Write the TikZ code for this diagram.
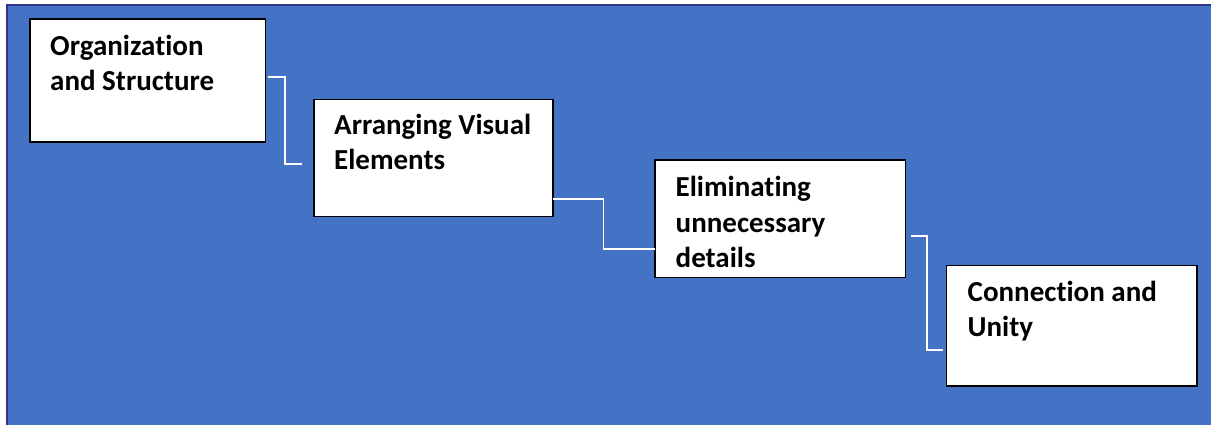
\documentclass[tikz,border=0pt]{standalone}
\usepackage{fontspec}
\setmainfont[Ligatures=NoCommon]{Carlito}
\begin{document}
\begin{tikzpicture}[x=1pt,y=-1pt,
  stagebox/.style={draw=black, line width=1.2pt, fill=white, minimum width=#1, anchor=north west,
    inner sep=0pt, outer sep=0pt},
  stagetext/.style={anchor=base west, font=\bfseries\fontsize{29}{35.5}\selectfont, inner sep=0pt},
  link/.style={draw=white, line width=1.2pt}]
  \useasboundingbox (0,0) rectangle (1211,424);
  \fill[white] (0,0) rectangle (1211,424);
  % backdrop panel
  \fill[draw=blue!40!black!80, line width=2pt, fill={rgb,255:red,68;green,114;blue,196}]
    (7,5) rectangle (1216,430);

  % stage boxes
  \node[stagebox=235.5pt, minimum height=123pt] (b1) at (30,19) {};
  \node[stagebox=239pt, minimum height=117pt] (b2) at (314,99.5) {};
  \node[stagebox=250.5pt, minimum height=117.5pt] (b3) at (655,160) {};
  \node[stagebox=250.5pt, minimum height=120.5pt] (b4) at (946.5,265.5) {};

  % stage labels, first baseline at the given point
  \node[stagetext] (t1) at (50,55) {\parbox[t]{220pt}{\raggedright Organization\\and Structure}};
  \node[stagetext] (t2) at (334,134) {\parbox[t]{220pt}{\raggedright Arranging Visual\\Elements}};
  \node[stagetext] (t3) at (675.5,196.5) {\parbox[t]{220pt}{\raggedright Eliminating\\unnecessary\\details}};
  \node[stagetext] (t4) at (967.5,301) {\parbox[t]{220pt}{\raggedright Connection and\\Unity}};

  % elbow connectors
  \coordinate (c1a) at (268,77);
  \coordinate (c1b) at (302,164);
  \draw[link] (c1a) -| (285,164) -- (c1b);
  \coordinate (c2a) at (b2.north east |- 0,199);
  \draw[link] (c2a) -| (603.5,249) -- (b3.west |- 0,249);
  \coordinate (c3a) at (911,236);
  \coordinate (c3b) at (942.5,350);
  \draw[link] (c3a) -| (927,350) -- (c3b);
\end{tikzpicture}
\end{document}
